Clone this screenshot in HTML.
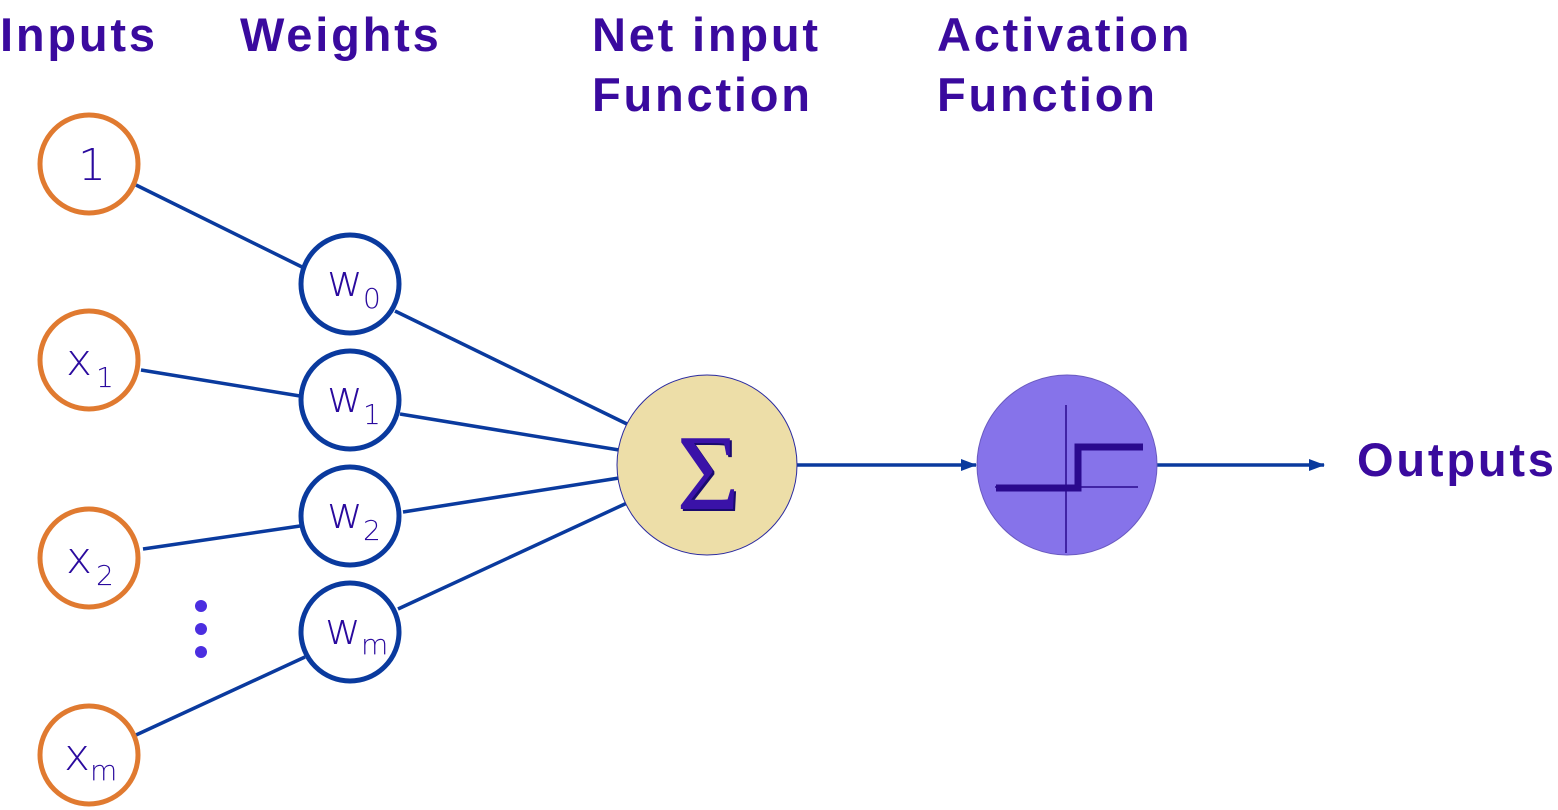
<!DOCTYPE html>
<html><head><meta charset="utf-8"><style>
html,body{margin:0;padding:0;background:#fff;width:1558px;height:810px;overflow:hidden}
svg{display:block}
.h{font-family:"Liberation Sans","DejaVu Sans",sans-serif;font-weight:bold;font-size:47px;fill:#3A0A9E;letter-spacing:2.8px}
.n{font-family:"DejaVu Sans","Liberation Sans",sans-serif;font-size:44px;fill:#2A0A9E;font-weight:200}
.s{font-size:28px}
</style></head><body>
<svg width="1558" height="810" viewBox="0 0 1558 810">
<defs><marker id="a" markerWidth="16" markerHeight="14" refX="15" refY="7" orient="auto" markerUnits="userSpaceOnUse"><path d="M0,1 L16,7 L0,13 z" fill="#0A3A9E"/></marker></defs>
<text class="h" x="0" y="51">Inputs</text>
<text class="h" x="240" y="51">Weights</text>
<text class="h" x="592" y="51">Net input</text>
<text class="h" x="592" y="111">Function</text>
<text class="h" x="937" y="51">Activation</text>
<text class="h" x="937" y="111">Function</text>
<text class="h" x="1357" y="476">Outputs</text>
<g stroke="#0A3A9E" stroke-width="3.5" fill="none">
<line x1="136" y1="185" x2="302" y2="267"/>
<line x1="395" y1="311" x2="627" y2="424"/>
<line x1="141" y1="370" x2="300" y2="396"/>
<line x1="400" y1="414" x2="619" y2="450"/>
<line x1="143" y1="549" x2="300" y2="526"/>
<line x1="403" y1="512" x2="619" y2="478"/>
<line x1="398" y1="609" x2="627" y2="503"/>
<line x1="136" y1="735" x2="305" y2="657"/>
<line x1="797" y1="465" x2="976" y2="465" marker-end="url(#a)"/>
<line x1="1157" y1="465" x2="1324" y2="465" marker-end="url(#a)"/>
</g>
<g fill="#fff" stroke="#E07A30" stroke-width="5">
<circle cx="89" cy="164" r="49"/><circle cx="89" cy="360" r="49"/>
<circle cx="89" cy="558" r="49"/><circle cx="89" cy="755" r="49"/>
</g>
<g fill="#fff" stroke="#0A3A9E" stroke-width="5">
<circle cx="350" cy="284" r="49"/><circle cx="350" cy="400" r="49"/>
<circle cx="350" cy="516" r="49"/><circle cx="350" cy="632" r="49"/>
</g>
<text class="n" x="78" y="180">1</text>
<text class="n" x="66" y="375">x<tspan class="s" dx="4" dy="12">1</tspan></text>
<text class="n" x="66" y="573">x<tspan class="s" dx="4" dy="12">2</tspan></text>
<text class="n" x="64" y="770">x<tspan class="s" dx="0" dy="10">m</tspan></text>
<text class="n" x="327" y="296">w<tspan class="s" dy="12">0</tspan></text>
<text class="n" x="327" y="412">w<tspan class="s" dy="12">1</tspan></text>
<text class="n" x="327" y="528">w<tspan class="s" dy="12">2</tspan></text>
<text class="n" x="325" y="644">w<tspan class="s" dy="10">m</tspan></text>
<g fill="#4B2EE0"><circle cx="201" cy="606" r="6"/><circle cx="201" cy="629" r="6"/><circle cx="201" cy="652" r="6"/></g>
<circle cx="707" cy="465" r="90" fill="#EDDEA8" stroke="#2A2AA0" stroke-width="1"/>
<text x="710" y="511" text-anchor="middle" font-family="'Liberation Serif',serif" font-size="108" fill="#1A0A6E">Σ</text>
<text x="708" y="509" text-anchor="middle" font-family="'Liberation Serif',serif" font-size="108" fill="#3A12A8">Σ</text>
<circle cx="1067" cy="465" r="90" fill="#8673EA" stroke="#6a5ac0" stroke-width="1"/>
<g stroke="#2A0A8E">
<line x1="1066" y1="405" x2="1066" y2="553" stroke-width="1.5"/>
<line x1="995" y1="487" x2="1138" y2="487" stroke-width="1.5"/>
<polyline points="996,488 1078,488 1078,447 1143,447" fill="none" stroke-width="7"/>
</g>
</svg>
</body></html>
